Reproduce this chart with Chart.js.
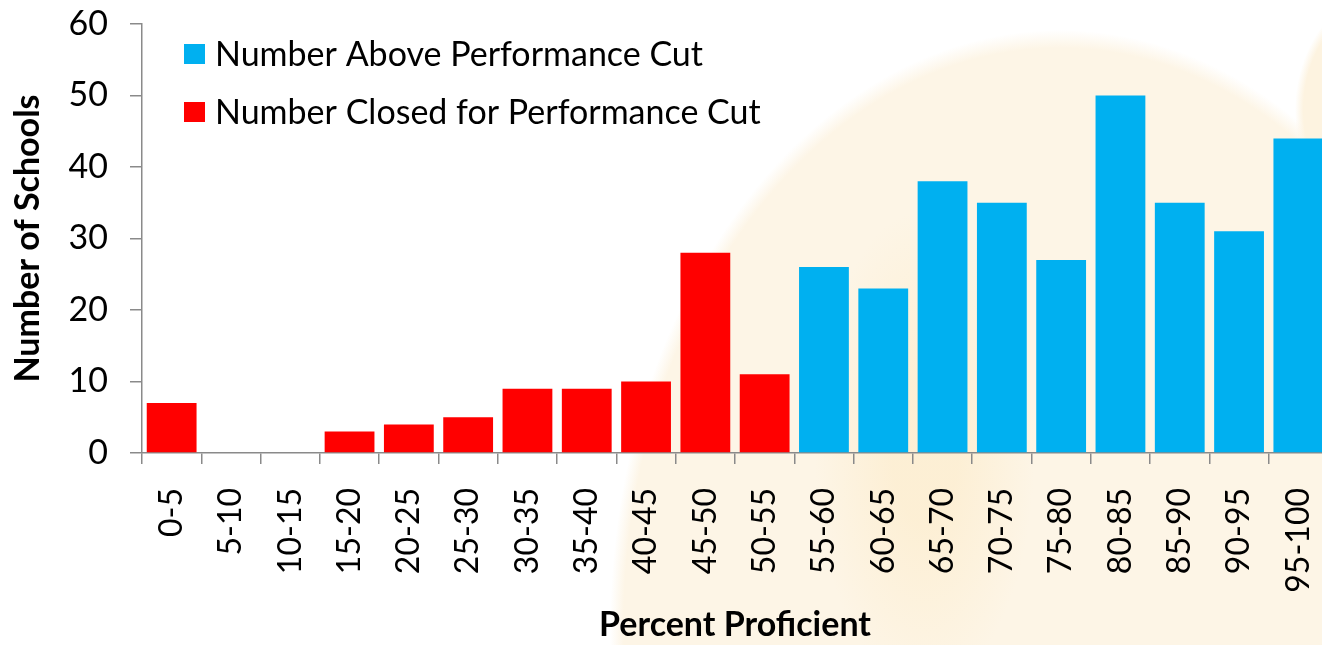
<!DOCTYPE html>
<html>
<head>
<meta charset="utf-8">
<script src="https://cdn.jsdelivr.net/npm/chart.js@4/dist/chart.umd.min.js"></script>
<style>
  html, body { margin: 0; padding: 0; background: #fff; overflow: hidden; }
  #wrap { width: 1322px; height: 645px; overflow: hidden; }
  canvas { display: block; }
</style>
</head>
<body>
<div id="wrap"><canvas id="c" width="1330" height="645"></canvas></div>
<script>
// Score bands (percent proficient)
const categories = ['0-5','5-10','10-15','15-20','20-25','25-30','30-35','35-40','40-45','45-50',
                    '50-55','55-60','60-65','65-70','70-75','75-80','80-85','85-90','90-95','95-100'];
// Schools above the cut (bands 55-100)
const aboveCut = [null,null,null,null,null,null,null,null,null,null,
                  null,26,23,38,35,27,50,35,31,44];
// Schools closed for the cut (bands 0-55)
const closedCut = [7,0,0,3,4,5,9,9,10,28,
                   11,null,null,null,null,null,null,null,null,null];
const yTicks = [0,10,20,30,40,50,60];

const BLUE = '#00B0F0';
const RED = '#FF0000';
const AXIS = '#8a8a8a';
const FONT = 'Lato, "Open Sans", sans-serif';

// soft-edged elliptical wash: radial gradient squeezed into an ellipse
function softEllipse(ctx, cx, cy, rx, ry, rgb, alpha, edge) {
  ctx.save();
  ctx.translate(cx, cy);
  ctx.scale(1, ry / rx);
  const g = ctx.createRadialGradient(0, 0, 0, 0, 0, rx);
  g.addColorStop(0, `rgba(${rgb},${alpha})`);
  g.addColorStop(1 - edge, `rgba(${rgb},${alpha})`);
  g.addColorStop(1, `rgba(${rgb},0)`);
  ctx.fillStyle = g;
  ctx.beginPath();
  ctx.arc(0, 0, rx, 0, Math.PI * 2);
  ctx.fill();
  ctx.restore();
}

// warm sunburst wash behind the plot
const glowPlugin = {
  id: 'glow',
  beforeDraw(chart) {
    const ctx = chart.ctx;
    ctx.save();
    ctx.fillStyle = '#ffffff';
    ctx.fillRect(0, 0, chart.width, chart.height);
    softEllipse(ctx, 1060, 630, 450, 600, '253,245,230', 1, 0.03);
    softEllipse(ctx, 925, 450, 110, 240, '252,228,180', 0.35, 0.7);
    softEllipse(ctx, 1400, 110, 105, 125, '253,243,224', 1, 0.08);
    ctx.restore();
  }
};

// legend drawn inside the plot area, top-left
const insideLegend = {
  id: 'insideLegend',
  afterDraw(chart) {
    const ctx = chart.ctx;
    const area = chart.chartArea;
    const items = [chart.data.datasets[0], chart.data.datasets[1]];
    ctx.save();
    ctx.font = '34px ' + FONT;
    ctx.textBaseline = 'middle';
    ctx.textAlign = 'left';
    items.forEach((ds, i) => {
      const cy = area.top + 30 + i * 58;
      ctx.fillStyle = ds.backgroundColor;
      ctx.fillRect(area.left + 42, cy - 10, 21, 20);
      ctx.fillStyle = '#000';
      ctx.fillText(ds.label, area.left + 73, cy + 1);
    });
    ctx.restore();
  }
};

new Chart(document.getElementById('c'), {
  type: 'bar',
  data: {
    labels: categories,
    datasets: [
      { label: 'Number Above Performance Cut', data: aboveCut, backgroundColor: BLUE,
        categoryPercentage: 1.0, barPercentage: 0.84 },
      { label: 'Number Closed for Performance Cut', data: closedCut, backgroundColor: RED,
        categoryPercentage: 1.0, barPercentage: 0.84 }
    ]
  },
  options: {
    responsive: false,
    animation: false,
    layout: { padding: { top: 24, right: 2, left: 0, bottom: 0 } },
    plugins: {
      legend: { display: false },
      tooltip: { enabled: false }
    },
    scales: {
      x: {
        stacked: true,
        afterFit(s) { s.height = 192; s.paddingLeft = 0; s.paddingRight = 0; },
        grid: { display: true, drawOnChartArea: false, offset: true, color: AXIS,
                tickLength: 11, lineWidth: 1.5 },
        border: { color: AXIS, width: 1.5 },
        ticks: { color: '#000', font: { family: FONT, size: 32 }, minRotation: 90, maxRotation: 90,
                 padding: 24, autoSkip: false },
        title: { display: true, text: 'Percent Proficient', color: '#000',
                 font: { family: FONT, size: 34, weight: 'bold' }, padding: { top: 0, bottom: 0 } }
      },
      y: {
        stacked: true,
        min: 0, max: 60,
        afterFit(s) { s.width = 142; s.paddingTop = 0; s.paddingBottom = 0; },
        afterBuildTicks(s) { s.ticks = yTicks.map(v => ({ value: v })); },
        grid: { display: true, drawOnChartArea: false, color: AXIS, tickLength: 12, lineWidth: 1.5 },
        border: { color: AXIS, width: 1.5 },
        ticks: { color: '#000', font: { family: FONT, size: 34 }, padding: 22 },
        title: { display: true, text: 'Number of Schools', color: '#000',
                 font: { family: FONT, size: 34, weight: 'bold' }, padding: { top: 8, bottom: 0 } }
      }
    }
  },
  plugins: [glowPlugin, insideLegend]
});
</script>
</body>
</html>
